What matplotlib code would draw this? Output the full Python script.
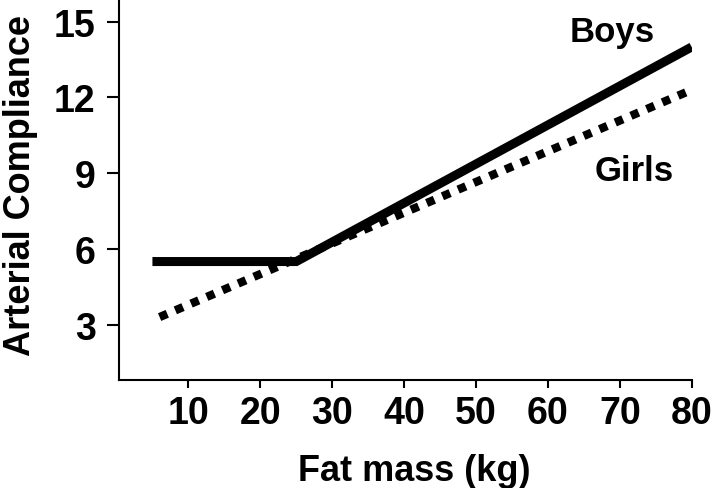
import matplotlib.pyplot as plt

# data
boys_x = [5, 25, 80]
boys_y = [5.5, 5.5, 14.0]
girls_x = [6, 80]
girls_y = [3.3, 12.3]
xticks = [10, 20, 30, 40, 50, 60, 70, 80]
yticks = [3, 6, 9, 12, 15]

plt.rcParams['font.family'] = ['Liberation Sans', 'DejaVu Sans']
plt.rcParams['font.weight'] = 'bold'

fig = plt.figure(figsize=(7.19, 4.89), dpi=100)
ax = fig.add_axes([0.166, 0.221, 0.796, 0.779])

ax.plot(boys_x, boys_y, color='black', lw=6.5, solid_capstyle='butt',
        solid_joinstyle='miter')
ax.plot(girls_x, girls_y, color='black', lw=6.0, dashes=(1, 1.05),
        dash_capstyle='butt')

ax.text(68.9, 14.6, 'Boys', fontsize=25, fontweight='bold', ha='center', va='center')
ax.text(72.0, 9.1, 'Girls', fontsize=25, fontweight='bold', ha='center', va='center')

ax.set_xlim(0.4, 80)
ax.set_ylim(0.81, 15.9)
ax.set_xticks(xticks)
ax.set_yticks(yticks)
ax.tick_params(axis='x', labelsize=27, length=6, width=1.5, pad=5)
ax.tick_params(axis='y', labelsize=27, length=9, width=1.5, pad=8)
for lab in ax.get_xticklabels() + ax.get_yticklabels():
    lab.set_fontweight('bold')

for s in ['top', 'right']:
    ax.spines[s].set_visible(False)
for s in ['left', 'bottom']:
    ax.spines[s].set_linewidth(1.5)

ax.set_xlabel('Fat mass (kg)', fontsize=26, fontweight='bold')
ax.xaxis.set_label_coords(0.515, -0.238)
ax.xaxis.label.set_verticalalignment('center')
ax.set_ylabel('Arterial Compliance', fontsize=26, fontweight='bold')
ax.yaxis.set_label_coords(-0.172, 0.514)
ax.yaxis.label.set_verticalalignment('center')

fig.savefig('out.png', dpi=100)
